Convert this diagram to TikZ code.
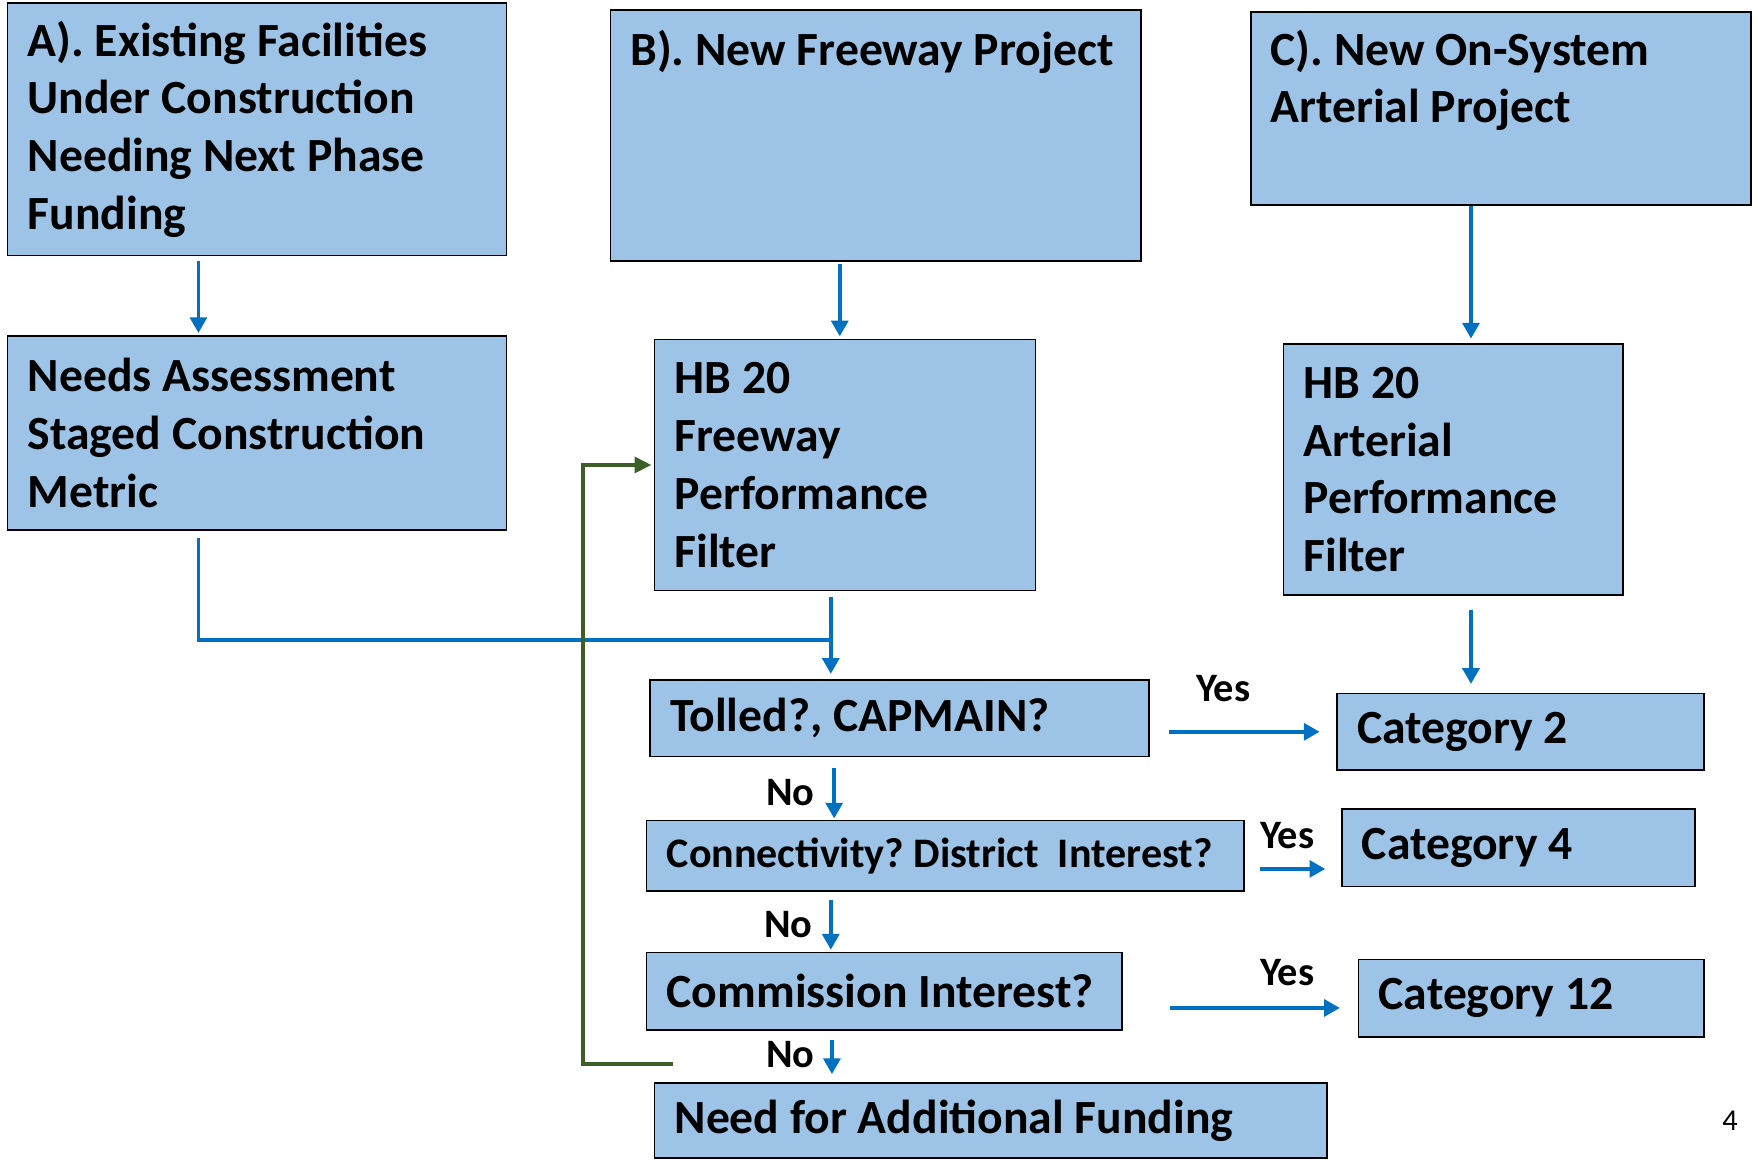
\documentclass[tikz,border=0pt]{standalone}
\usepackage{fontspec}
\setmainfont{Carlito}
\usetikzlibrary{arrows.meta,calc}
\definecolor{boxfill}{RGB}{157,195,230}
\definecolor{arrblue}{RGB}{0,112,192}
\definecolor{arrgreen}{RGB}{60,95,40}
\tikzset{
  box/.style={draw=black, line width=1.4pt, fill=boxfill, inner xsep=18pt, inner ysep=0pt,
    align=flush left, anchor=north west, font=\fontsize{42.5}{51.5}\selectfont\bfseries},
  boxtext/.style={inner sep=0pt, align=flush left, anchor=base west, font=\fontsize{42.5}{51.5}\selectfont\bfseries},
  lbl/.style={inner sep=0pt, font=\fontsize{36}{40}\selectfont\bfseries},
  bline/.style={draw=arrblue, line width=3.2pt},
  barrow/.style={bline, -{Triangle[length=14pt,width=15pt]}},
  garrow/.style={draw=arrgreen, line width=3.5pt, -{Triangle[length=15pt,width=14pt]}},
}
\begin{document}
\frenchspacing
\begin{tikzpicture}[x=1pt,y=-1pt]
\useasboundingbox (0,0) rectangle (1568,1034);
% boxes
\node[box, text width=409pt, minimum height=225pt] (A) at (6,2)
  {A). Existing Facilities\\Under Construction\\Needing Next Phase\\Funding};
\node[box, text width=409pt, minimum height=173pt] (NA) at (6,299)
  {Needs Assessment\\Staged Construction\\Metric};
\node[box, text width=437pt, minimum height=224pt] (B) at (544,8) {};
\node[boxtext] (Bt) at (562,58) {B). New Freeway Project};
\node[box, text width=304pt, minimum height=224pt] (HBF) at (583,302)
  {HB 20\\Freeway\\Performance\\Filter};
\node[box, text width=410pt, minimum height=172pt] (C) at (1115,10) {};
\node[boxtext, text width=400pt] (Ct) at (1133,58) {C). New On-System\\Arterial Project};
\node[box, text width=267pt, minimum height=224pt] (HBA) at (1144,306)
  {HB 20\\Arterial\\Performance\\Filter};
\node[box, text width=409pt, minimum height=68pt] (Tolled) at (579,606) {Tolled?, CAPMAIN?};
\node[box, text width=291pt, minimum height=68pt] (Cat2) at (1192,618) {Category 2};
\node[box, text width=497pt, minimum height=63pt, font=\fontsize{37.5}{44}\selectfont\bfseries] (Conn) at (576,731)
  {\mbox{Connectivity? District\ \ Interest?}};
\node[box, text width=279pt, minimum height=69pt] (Cat4) at (1196,721) {Category 4};
\node[box, text width=388pt, minimum height=69pt] (Comm) at (576,849) {Commission Interest?};
\node[box, text width=272pt, minimum height=69pt] (Cat12) at (1211,855) {Category 12};
\node[box, text width=564pt, minimum height=67pt] (Need) at (583,965) {Need for Additional Funding};
% labels
\node[lbl] (y1) at (1091,614) {Yes};
\node[lbl] (y2) at (1148,745) {Yes};
\node[lbl] (y3) at (1148,867) {Yes};
\node[lbl] (n1) at (705,707) {No};
\node[lbl] (n2) at (703,825) {No};
\node[lbl] (n3) at (705,941) {No};
\node[inner sep=0pt, font=\fontsize{27}{30}\selectfont] (pg) at (1543,1000) {4};
% helper coordinates
\coordinate (ax) at (177,0);
\coordinate (bx) at (749,0);
\coordinate (tx) at (741,0);
\coordinate (cx) at (1312,0);
\coordinate (nx1) at (744,0);
\coordinate (nx2) at (741,0);
\coordinate (nx3) at (742,0);
\coordinate (jn) at (741,571);
\coordinate (y4) at (0,775);
\coordinate (y12) at (0,899);
\coordinate (g0) at (600,949);
\coordinate (gx) at (520,0);
% connectors
\draw[barrow, shorten <=4pt, shorten >=2pt] (A.south -| ax) -- (NA.north -| ax);
\draw[bline, shorten <=6pt] (NA.south -| ax) |- (jn);
\draw[barrow, shorten <=2pt, shorten >=2pt] (B.south -| bx) -- (HBF.north -| bx);
\draw[barrow, shorten <=5pt, shorten >=5pt] (HBF.south -| tx) -- (Tolled.north -| tx);
\draw[barrow, shorten >=4pt] (C.south -| cx) -- (HBA.north -| cx);
\draw[barrow, shorten <=13pt, shorten >=8pt] (HBA.south -| cx) -- (Cat2.north -| cx);
\draw[barrow, shorten <=17pt, shorten >=15pt] (Tolled.east |- Cat2.west) -- (Cat2.west);
\draw[barrow, shorten <=10pt, shorten >=1pt] (Tolled.south -| nx1) -- (Conn.north -| nx1);
\draw[barrow, shorten <=13pt, shorten >=14pt] (Conn.east |- y4) -- (Cat4.west |- y4);
\draw[barrow, shorten <=7pt, shorten >=2pt] (Conn.south -| nx2) -- (Comm.north -| nx2);
\draw[barrow, shorten <=42pt, shorten >=16pt] (Comm.east |- y12) -- (Cat12.west |- y12);
\draw[barrow, shorten <=8pt, shorten >=7pt] (Comm.south -| nx3) -- (Need.north -| nx3);
\draw[garrow, shorten >=2pt] (g0) -- (g0 -| gx) |- (HBF.west);
\end{tikzpicture}
\end{document}
